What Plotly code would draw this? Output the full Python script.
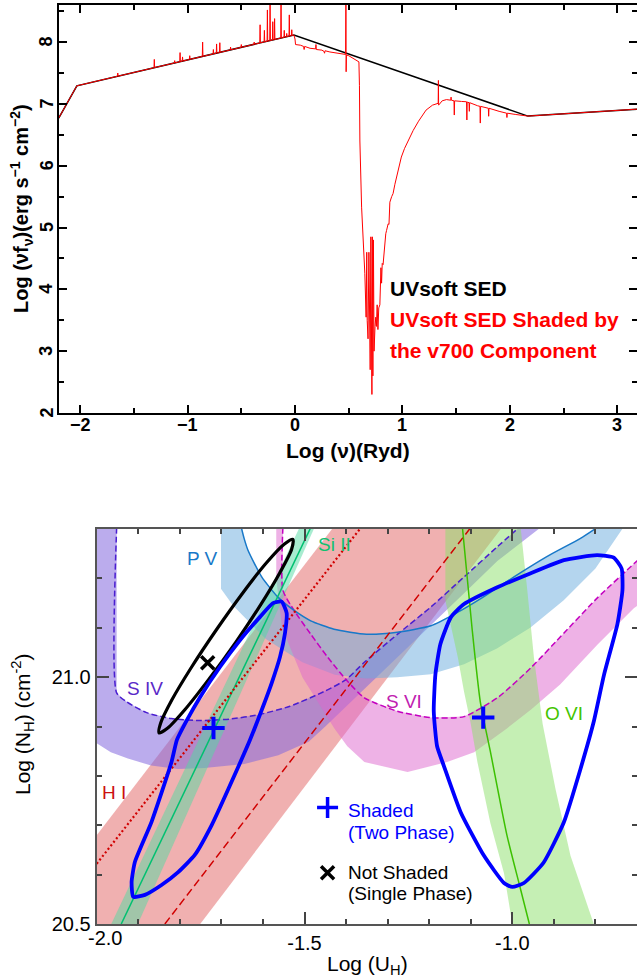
import plotly.graph_objects as go

W, H = 637, 978
FONT = "Liberation Sans, Arial, sans-serif"

# ================= TOP PANEL DATA (Log nu [Ryd], Log nu f_nu) =================
sed_x = [-2.2, -2.031, -0.01, 2.168, 3.2]
sed_y = [6.77, 7.293, 8.115, 6.803, 6.917]

shaded_x = [
    -2.2, -2.031,
    -1.653, -1.650, -1.647, -1.313, -1.310, -1.307, -1.123, -1.120, -1.117,
    -1.073, -1.070, -1.067, -1.050, -1.047, -1.044, -0.983, -0.980, -0.977,
    -0.863, -0.860, -0.857, -0.763, -0.760, -0.757, -0.733, -0.730, -0.727,
    -0.703, -0.700, -0.697, -0.603, -0.600, -0.597, -0.503, -0.500, -0.497,
    -0.383, -0.380, -0.377, -0.328, -0.325, -0.322, -0.288, -0.285, -0.282,
    -0.260, -0.257, -0.254, -0.235, -0.232, -0.229, -0.210, -0.207, -0.204,
    -0.193, -0.190, -0.187, -0.133, -0.130, -0.127, -0.103, -0.100, -0.097,
    -0.080, -0.077, -0.074, -0.056, -0.053, -0.050, -0.033, -0.030, -0.027,
    -0.010, 0.000, 0.005, 0.05, 0.08, 0.085, 0.09, 0.14, 0.192, 0.195, 0.198,
    0.25, 0.27, 0.275, 0.28, 0.325, 0.40, 0.45, 0.471, 0.474, 0.476, 0.479,
    0.50, 0.54, 0.57, 0.595, 0.600, 0.604, 0.62, 0.65,
    0.662, 0.668, 0.672, 0.680, 0.688, 0.692, 0.700, 0.706, 0.710, 0.716,
    0.720, 0.725, 0.730, 0.736, 0.745, 0.752, 0.758, 0.765, 0.772, 0.780,
    0.790, 0.800, 0.806, 0.812, 0.820, 0.836, 0.845, 0.852, 0.867, 0.875,
    0.883, 0.90, 0.913, 0.93, 0.945, 0.97, 0.99, 1.02, 1.053, 1.10, 1.15,
    1.22, 1.28, 1.333, 1.335, 1.337, 1.37, 1.41, 1.45, 1.453, 1.456, 1.48,
    1.483, 1.486, 1.55, 1.597, 1.600, 1.603, 1.62, 1.623, 1.626, 1.70, 1.722,
    1.725, 1.728, 1.80, 1.803, 1.806, 1.90, 1.97, 1.973, 1.976, 2.05, 2.168,
    3.2,
]
shaded_y = [
    6.77, 7.293,
    7.447, 7.50, 7.449, 7.585, 7.72, 7.587, 7.662, 7.70, 7.664,
    7.683, 7.83, 7.685, 7.690, 7.76, 7.693, 7.719, 7.78, 7.721,
    7.768, 8.00, 7.769, 7.808, 7.88, 7.810, 7.820, 7.97, 7.822,
    7.832, 7.99, 7.834, 7.873, 7.92, 7.875, 7.914, 7.96, 7.916,
    7.963, 8.00, 7.965, 7.985, 8.28, 7.987, 8.002, 8.19, 8.004,
    8.013, 8.52, 8.015, 8.023, 8.70, 8.025, 8.033, 8.33, 8.035,
    8.040, 8.38, 8.042, 8.065, 8.70, 8.067, 8.077, 8.19, 8.079,
    8.086, 8.14, 8.088, 8.096, 8.44, 8.098, 8.105, 8.20, 8.107,
    8.115, 8.05, 7.96, 7.95, 7.93, 7.88, 7.93, 7.90, 7.89, 7.96, 7.88,
    7.87, 7.85, 7.82, 7.86, 7.84, 7.82, 7.80, 7.80, 8.70, 7.52, 7.79,
    7.78, 7.74, 7.71, 7.68, 7.30, 6.40, 5.33, 4.26,
    3.55, 4.60, 3.50, 3.20, 4.60, 3.10, 2.70, 4.85, 2.50, 2.30,
    4.85, 2.60, 4.80, 3.00, 3.40, 3.55, 3.40, 3.75, 3.35, 3.70,
    3.75, 4.35, 4.10, 4.42, 4.40, 4.80, 4.90, 4.95, 5.06, 5.05,
    5.41, 5.50, 5.55, 5.70, 5.82, 6.00, 6.14, 6.28, 6.41, 6.57, 6.72,
    6.90, 6.98, 7.01, 7.38, 6.98, 7.05, 7.07, 7.06, 7.11, 7.06, 7.05,
    6.82, 7.05, 7.04, 7.035, 6.74, 7.03, 7.02, 6.88, 7.02, 6.97, 6.96,
    6.69, 6.96, 6.93, 6.80, 6.93, 6.88, 6.85, 6.78, 6.85, 6.83, 6.803,
    6.917,
]

top_x_ticks = [-2, -1, 0, 1, 2, 3]
top_x_labels = ["\u22122", "\u22121", "0", "1", "2", "3"]
top_x_minor = [-1.5, -0.5, 0.5, 1.5, 2.5]
top_y_ticks = [2, 3, 4, 5, 6, 7, 8]
top_y_labels = ["2", "3", "4", "5", "6", "7", "8"]
top_y_minor = [2.5, 3.5, 4.5, 5.5, 6.5, 7.5, 8.5]

# ================= BOTTOM PANEL DATA (Log U_H, Log N_H) =================
# H I
hi_band_u = [-2.0, -2.0, -1.431, -1.025, -1.751]
hi_band_n = [20.5, 20.68, 21.303, 21.303, 20.5]
hi_dot_u = [-2.0, -1.364]
hi_dot_n = [20.622, 21.303]
hi_dash_u = [-1.836, -1.100]
hi_dash_n = [20.5, 21.303]

# S IV
siv_line_u = [-1.952, -1.952, -1.928, -1.88, -1.82, -1.75, -1.68, -1.61, -1.535,
              -1.45, -1.40, -1.356, -1.276, -1.196, -1.116, -1.036, -0.984]
siv_line_n = [21.303, 20.968, 20.950, 20.928, 20.916, 20.912, 20.915, 20.924, 20.941,
              20.972, 20.995, 21.03, 21.087, 21.142, 21.203, 21.264, 21.303]
siv_edge_u = [-0.932, -1.036, -1.116, -1.196, -1.276, -1.356, -1.45, -1.49, -1.563,
              -1.645, -1.741, -1.805, -1.869, -1.925, -1.966, -2.0, -2.0]
siv_edge_n = [21.303, 21.235, 21.17, 21.105, 21.04, 20.975, 20.90, 20.869, 20.842,
              20.824, 20.816, 20.814, 20.821, 20.835, 20.848, 20.866, 21.303]

# P V
pv_line_u = [-1.652, -1.645, -1.636, -1.603, -1.564, -1.525, -1.485, -1.429, -1.351,
             -1.277, -1.196, -1.132, -1.076, -0.996, -0.917, -0.836, -0.796]
pv_line_n = [21.303, 21.28, 21.257, 21.203, 21.162, 21.135, 21.114, 21.097, 21.087,
             21.091, 21.104, 21.131, 21.159, 21.203, 21.244, 21.281, 21.303]
pv_edge_u = [-0.733, -0.80, -0.877, -0.957, -1.037, -1.116, -1.196, -1.277, -1.352,
             -1.427, -1.505, -1.593, -1.624, -1.672, -1.701, -1.701]
pv_edge_n = [21.303, 21.22, 21.155, 21.10, 21.058, 21.026, 21.006, 21.0, 20.997,
             21.005, 21.03, 21.077, 21.104, 21.145, 21.179, 21.303]

# S VI
svi_line_u = [-1.552, -1.552, -1.525, -1.485, -1.444, -1.397, -1.356, -1.277, -1.196,
              -1.116, -1.033, -0.954, -0.875, -0.796, -0.707, -0.69]
svi_line_n = [21.303, 21.176, 21.135, 21.087, 21.04, 20.992, 20.958, 20.931, 20.918,
              20.92, 20.96, 21.02, 21.09, 21.16, 21.23, 21.243]
svi_edge_u = [-0.69, -0.707, -0.796, -0.885, -0.954, -1.013, -1.092, -1.157, -1.252,
              -1.356, -1.397, -1.428, -1.505, -1.554, -1.568, -1.568]
svi_edge_n = [21.15, 21.14, 21.065, 20.985, 20.935, 20.896, 20.848, 20.828, 20.808,
              20.828, 20.86, 20.896, 21.0, 21.1, 21.2, 21.303]

# Si II
si2_line_u = [-1.485, -1.941]
si2_line_n = [21.303, 20.5]
si2_band_u = [-1.512, -1.476, -1.901, -1.965]
si2_band_n = [21.303, 21.303, 20.5, 20.5]

# O VI
ovi_line_u = [-1.12, -1.097, -1.077, -1.053, -1.013, -0.984, -0.959]
ovi_line_n = [21.303, 21.1, 20.95, 20.85, 20.68, 20.583, 20.5]
ovi_left_u = [-1.161, -1.161, -1.131, -1.116, -1.101, -1.084, -1.053, -1.02, -1.0]
ovi_left_n = [21.303, 21.155, 21.04, 20.97, 20.91, 20.828, 20.705, 20.603, 20.5]
ovi_right_u = [-0.804, -0.86, -0.896, -0.927, -0.948, -0.964, -0.98]
ovi_right_n = [20.5, 20.638, 20.773, 20.905, 21.04, 21.176, 21.303]

# Solutions
single_ell_u = [-1.528, -1.531, -1.559, -1.606, -1.666, -1.730, -1.787, -1.829, -1.850,
                -1.846, -1.819, -1.772, -1.712, -1.649, -1.592, -1.549, -1.528]
single_ell_n = [21.279, 21.259, 21.212, 21.146, 21.070, 20.996, 20.935, 20.897, 20.887,
                20.907, 20.954, 21.020, 21.096, 21.170, 21.231, 21.269, 21.279]
two_left_u = [-1.555, -1.543, -1.547, -1.559, -1.579, -1.600, -1.631, -1.683, -1.723,
              -1.764, -1.804, -1.844, -1.884, -1.912, -1.916, -1.908, -1.868, -1.820,
              -1.807, -1.783, -1.751, -1.703, -1.655, -1.607, -1.576, -1.555]
two_left_n = [21.153, 21.130, 21.089, 21.041, 20.988, 20.940, 20.873, 20.774, 20.701,
              20.640, 20.605, 20.579, 20.559, 20.555, 20.585, 20.626, 20.707, 20.828,
              20.873, 20.913, 20.960, 21.021, 21.075, 21.122, 21.150, 21.153]
two_right_u = [-0.796, -0.876, -0.957, -1.036, -1.116, -1.148, -1.173, -1.185, -1.189, -1.181,
               -1.165, -1.124, -1.068, -1.02, -1.0, -0.972, -0.925, -0.876, -0.836, -0.804,
               -0.779, -0.747, -0.735, -0.737, -0.756, -0.796]
two_right_n = [21.247, 21.237, 21.21, 21.182, 21.148, 21.121, 21.067, 21.006, 20.931, 20.86,
               20.821, 20.726, 20.638, 20.583, 20.575, 20.583, 20.624, 20.706, 20.814, 20.91,
               21.006, 21.108, 21.176, 21.22, 21.242, 21.247]
shaded_u = [-1.719, -1.070]
shaded_n = [20.897, 20.918]
single_u = [-1.733]
single_n = [21.029]

bot_x_ticks = [-2.0, -1.5, -1.0]
bot_x_labels = ["", "-1.5", "-1.0"]
bot_x_minor = [-1.9, -1.8, -1.7, -1.6, -1.4, -1.3, -1.2, -1.1, -0.9, -0.8]
bot_y_ticks = [20.5, 21.0]
bot_y_labels = ["20.5", "21.0"]
bot_y_minor = [20.6, 20.7, 20.8, 20.9, 21.1, 21.2]

# ================= FIGURE =================
fig = go.Figure()

fig.add_trace(go.Scatter(x=sed_x, y=sed_y, mode="lines", line=dict(color="black", width=1.5),
                         xaxis="x", yaxis="y", hoverinfo="skip"))
fig.add_trace(go.Scatter(x=shaded_x, y=shaded_y, mode="lines", line=dict(color="#ff0000", width=1),
                         xaxis="x", yaxis="y", hoverinfo="skip"))


def poly(u, n, color):
    fig.add_trace(go.Scatter(x=u + [u[0]], y=n + [n[0]], mode="lines", fill="toself",
                             fillcolor=color, line=dict(width=0), xaxis="x2", yaxis="y2",
                             hoverinfo="skip"))


def curve(u, n, color, width, dash="solid", shape="linear", smoothing=0.6):
    fig.add_trace(go.Scatter(x=u, y=n, mode="lines",
                             line=dict(color=color, width=width, dash=dash, shape=shape,
                                       smoothing=smoothing),
                             xaxis="x2", yaxis="y2", hoverinfo="skip"))


# bands
poly(hi_band_u, hi_band_n, "rgba(225,97,97,0.5)")
poly(siv_line_u + siv_edge_u, siv_line_n + siv_edge_n, "rgba(131,104,222,0.55)")
poly(pv_line_u + pv_edge_u, pv_line_n + pv_edge_n, "rgba(105,171,221,0.5)")
poly(svi_line_u + svi_edge_u, svi_line_n + svi_edge_n, "rgba(221,101,205,0.5)")
poly(si2_band_u, si2_band_n, "rgba(81,217,161,0.5)")
poly(ovi_left_u + ovi_right_u, ovi_left_n + ovi_right_n, "rgba(139,223,105,0.5)")

# lines
curve(siv_line_u, siv_line_n, "#4A1ED0", 1.5, dash="6px,3px", shape="spline")
curve(svi_line_u, svi_line_n, "#C400C0", 1.5, dash="6px,3px", shape="spline")
curve(pv_line_u, pv_line_n, "#1878C8", 1.5, shape="spline")
curve(si2_line_u, si2_line_n, "#00C070", 1.5)
curve(hi_dot_u, hi_dot_n, "#D00000", 2.2, dash="2px,2.5px")
curve(hi_dash_u, hi_dash_n, "#D00000", 1.5, dash="8px,4px")
curve(ovi_line_u, ovi_line_n, "#3CC000", 1.5, shape="spline")

# solution contours
curve(single_ell_u, single_ell_n, "black", 3.2, shape="spline", smoothing=0.8)
curve(two_left_u, two_left_n, "#0000FF", 3.8, shape="spline", smoothing=0.5)
curve(two_right_u, two_right_n, "#0000FF", 3.8, shape="spline", smoothing=0.5)

fig.add_trace(go.Scatter(x=shaded_u, y=shaded_n, mode="markers", xaxis="x2", yaxis="y2",
                         marker=dict(symbol="cross-thin", size=16,
                                     line=dict(color="#0000FF", width=4)), hoverinfo="skip"))
fig.add_trace(go.Scatter(x=single_u, y=single_n, mode="markers", xaxis="x2", yaxis="y2",
                         marker=dict(symbol="x-thin", size=13,
                                     line=dict(color="black", width=3.5)), hoverinfo="skip"))

# legend keys (layout positions)
fig.add_trace(go.Scatter(x=[-1.4445], y=[20.736], mode="markers", xaxis="x2", yaxis="y2",
                         marker=dict(symbol="cross-thin", size=15,
                                     line=dict(color="#0000FF", width=3.5)), hoverinfo="skip"))
fig.add_trace(go.Scatter(x=[-1.4445], y=[20.604], mode="markers", xaxis="x2", yaxis="y2",
                         marker=dict(symbol="x-thin", size=13,
                                     line=dict(color="black", width=3.5)), hoverinfo="skip"))

reg_tick = dict(family=FONT, size=20, color="black")

top_common = dict(ticks="inside", tickwidth=1.5, tickcolor="black", showline=True,
                  linecolor="black", linewidth=2, mirror="ticks", showgrid=False,
                  zeroline=False, showticklabels=False, automargin=False)
bot_common = dict(ticks="inside", tickwidth=1.5, tickcolor="#444444", showline=True,
                  linecolor="#555555", linewidth=2, mirror="ticks", showgrid=False,
                  zeroline=False, tickfont=reg_tick, automargin=False)

fig.update_layout(
    width=W, height=H, margin=dict(l=0, r=0, t=0, b=0, autoexpand=False),
    paper_bgcolor="white", plot_bgcolor="white", showlegend=False, hovermode=False,
    xaxis=dict(domain=[58.7 / W, 1.0], range=[-2.2, 3.184], anchor="y",
               tickvals=top_x_ticks, ticklen=8,
               minor=dict(tickvals=top_x_minor, ticklen=5, ticks="inside", tickwidth=1.5,
                          tickcolor="black", showgrid=False), **top_common),
    yaxis=dict(domain=[1 - 413 / H, 1 - 5 / H], range=[2, 8.6], anchor="x",
               tickvals=top_y_ticks, ticklen=8,
               minor=dict(tickvals=top_y_minor, ticklen=5, ticks="inside", tickwidth=1.5,
                          tickcolor="black", showgrid=False), **top_common),
    xaxis2=dict(domain=[96.7 / W, 1.0], range=[-2.0, -0.7], anchor="y2",
                tickvals=bot_x_ticks, ticktext=bot_x_labels, ticklen=12,
                minor=dict(tickvals=bot_x_minor, ticklen=5, ticks="inside", tickwidth=1.5,
                           tickcolor="#444444", showgrid=False), **bot_common),
    yaxis2=dict(domain=[1 - 924 / H, 1 - 529 / H], range=[20.5, 21.3], anchor="x2",
                tickvals=bot_y_ticks, ticktext=bot_y_labels, ticklen=12,
                minor=dict(tickvals=bot_y_minor, ticklen=5, ticks="inside", tickwidth=1.5,
                           tickcolor="#444444", showgrid=False), **bot_common),
)


def ann(text, X, Y, size, color="black", bold=False, angle=0, xanchor="center"):
    f = dict(family=FONT, size=size, color=color)
    if bold:
        f["weight"] = "bold"
    fig.add_annotation(text=text, x=X / W, y=1 - Y / H, xref="paper", yref="paper",
                       xanchor=xanchor, yanchor="middle", showarrow=False, font=f,
                       textangle=angle)


bold_tick = dict(family=FONT, size=18, color="black", weight="bold")
# top tick labels (x below axis, y rotated)
for v, t in zip(top_x_ticks, top_x_labels):
    fig.add_annotation(text=t, x=v, xref="x", y=1 - 425 / H, yref="paper",
                       xanchor="center", yanchor="middle", showarrow=False, font=bold_tick)
for v, t in zip(top_y_ticks, top_y_labels):
    fig.add_annotation(text=t, x=46.5 / W, xref="paper", y=v, yref="y",
                       xanchor="center", yanchor="middle", showarrow=False, font=bold_tick,
                       textangle=-90)

# top panel texts
ann("UVsoft SED", 388, 288, 21, "black", True, xanchor="left")
ann("UVsoft SED Shaded by", 388, 319, 21, "#ff0000", True, xanchor="left")
ann("the v700 Component", 388, 350, 21, "#ff0000", True, xanchor="left")
ann("Log (ν)(Ryd)", 348, 451, 21, "black", True)
ann("Log (νf<sub>ν</sub>)(erg s<sup>−1</sup> cm<sup>−2</sup>)", 22, 209, 20, "black", True, angle=-90)

# bottom panel texts
ann("Log (N<sub>H</sub>) (cm<sup>-2</sup>)", 22, 724, 21, "black", angle=-90)
ann("Log (U<sub>H</sub>)", 367, 965, 21, "black")
ann("-2.0", 104.5, 937.5, 20, "black")
ann("P V", 202.5, 558.3, 19, "#1878C8")
ann("Si II", 334, 544, 19, "#10C070")
ann("S IV", 145, 688.3, 19, "#5A28C8")
ann("S VI", 404, 701.7, 19, "#C020B0")
ann("O VI", 564, 713, 19, "#44C400")
ann("H I", 114, 792, 19, "#CC1010")
ann("Shaded", 346.5, 810.7, 19, "#0000FF", xanchor="left")
ann("(Two Phase)", 346.5, 832.7, 19, "#0000FF", xanchor="left")
ann("Not Shaded", 346.5, 872.7, 19, "black", xanchor="left")
ann("(Single Phase)", 346.5, 893.3, 19, "black", xanchor="left")

fig.write_html("out.html", config={"displayModeBar": False},
               post_script="document.body.style.margin='0px';")
